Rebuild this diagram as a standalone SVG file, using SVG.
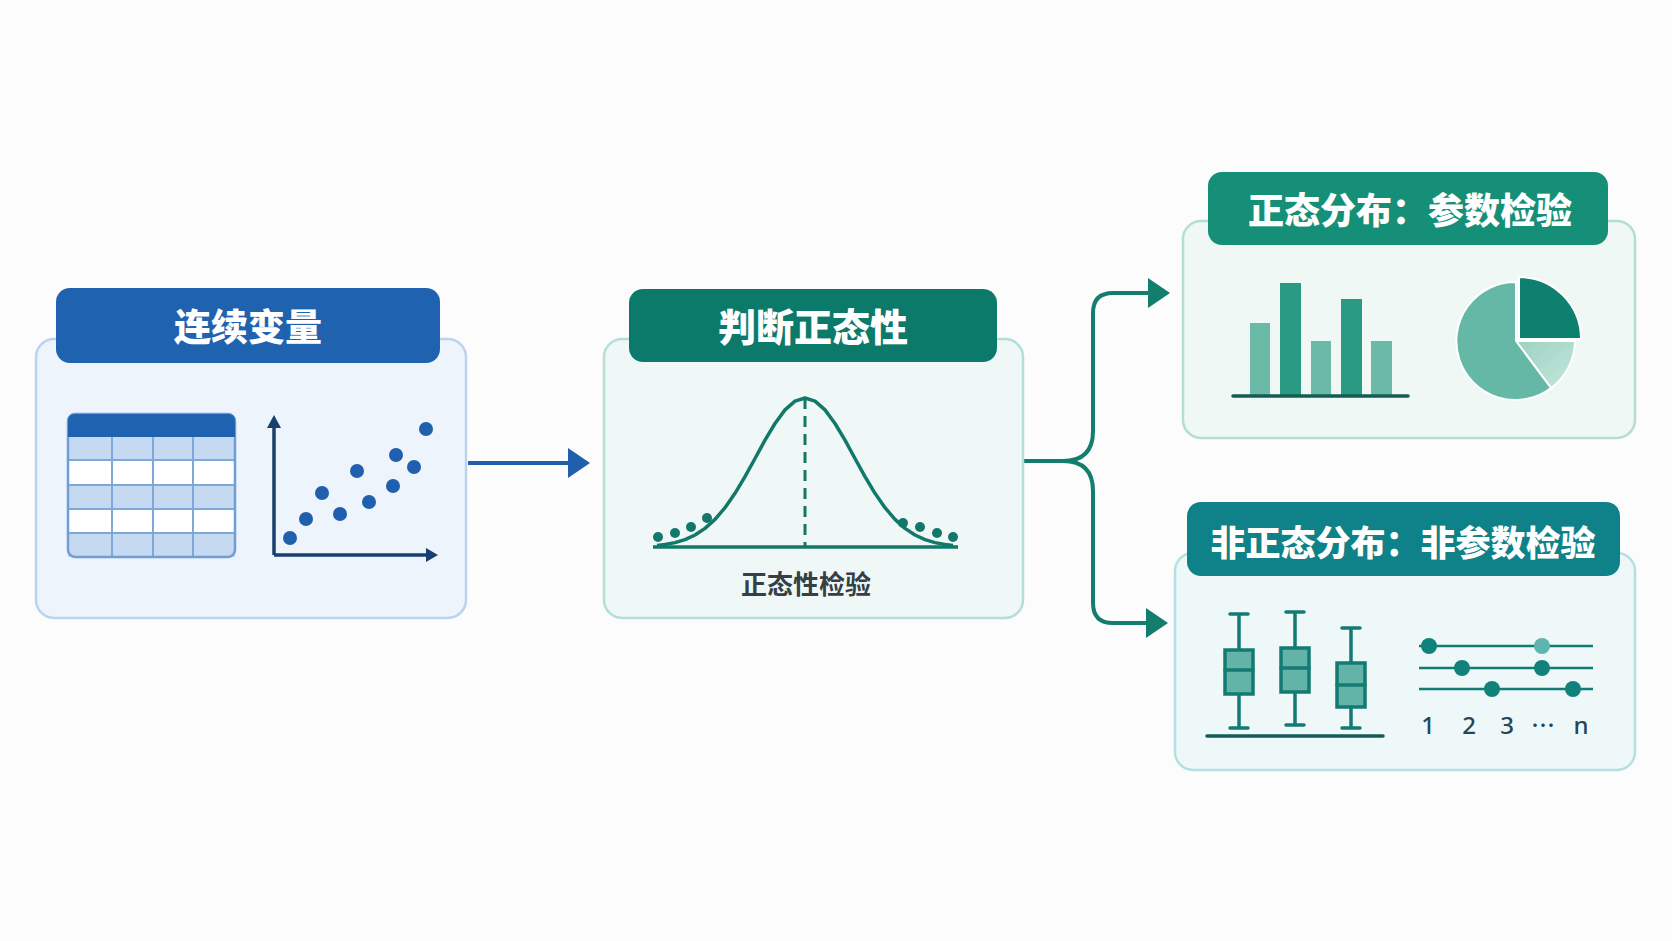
<svg xmlns="http://www.w3.org/2000/svg" width="1672" height="941" viewBox="0 0 1672 941">
<defs>
<style>
.hdr{font-family:"Noto Sans CJK SC","Noto Sans",sans-serif;font-weight:900;fill:#ffffff;text-anchor:middle}
.lbl{font-family:"Noto Sans CJK SC","Noto Sans",sans-serif;font-weight:700;fill:#343f46;text-anchor:middle}
.num{font-family:"Noto Sans","Open Sans",sans-serif;font-weight:500;fill:#25465a;text-anchor:middle;font-size:24px}
.grid{stroke:#7fa8da;stroke-width:2;fill:none}
.sdot{fill:#1f5fae}
.gdot{fill:#12786a}
.wh{stroke:#137b73;stroke-width:3.5;fill:none;stroke-linecap:round}
.box{fill:#62b3a8;stroke:#137b73;stroke-width:3.5}
.rl{stroke:#137b76;stroke-width:2.5}
.rd{fill:#11817c}
</style>
<marker id="ab" markerUnits="userSpaceOnUse" markerWidth="24" markerHeight="32" refX="0" refY="16" orient="auto">
<path d="M0,1 L22,16 L0,31 Z" fill="#1f5fae"/>
</marker>
<marker id="at" markerUnits="userSpaceOnUse" markerWidth="24" markerHeight="32" refX="0" refY="16" orient="auto">
<path d="M0,1 L22,16 L0,31 Z" fill="#137d6e"/>
</marker>
<linearGradient id="lg" x1="0" y1="0" x2="1" y2="1">
<stop offset="0" stop-color="#9dd2c3"/>
<stop offset="1" stop-color="#c4e6dc"/>
</linearGradient>
</defs>
<rect width="1672" height="941" fill="#fcfcfc"/>

<g id="connectors" fill="none" stroke-width="4">
<path d="M468,463 H568" stroke="#1f5fae" marker-end="url(#ab)"/>
<path d="M1023,461 H1063 Q1093,461 1093,431 V313 Q1093,293 1113,293 H1148" stroke="#137d6e" marker-end="url(#at)"/>
<path d="M1063,461 Q1093,461 1093,491 V603 Q1093,623 1113,623 H1146" stroke="#137d6e" marker-end="url(#at)"/>
</g>

<g id="node-continuous">
<rect x="36" y="339" width="430" height="279" rx="18" fill="#eef4fc" stroke="#bad3f0" stroke-width="2.5"/>
<rect x="56" y="288" width="384" height="75" rx="14" fill="#1e62b0"/>
<text class="hdr" x="248" y="341" font-size="37">连续变量</text>
<g id="table">
<rect x="68" y="414" width="167" height="143" rx="7" fill="#ffffff"/>
<rect x="68" y="437" width="167" height="23" fill="#c5d9f1"/>
<rect x="68" y="485" width="167" height="24" fill="#c5d9f1"/>
<rect x="68" y="533" width="167" height="24" fill="#c5d9f1"/>
<path class="grid" d="M68,460 H235 M68,485 H235 M68,509 H235 M68,533 H235 M112,437 V557 M153,437 V557 M193,437 V557"/>
<rect x="68" y="414" width="167" height="143" rx="7" fill="none" stroke="#6f9dd7" stroke-width="2.5"/>
<path d="M68,437 V421 Q68,414 75,414 H228 Q235,414 235,421 V437 Z" fill="#1e62b0"/>
</g>
<g id="scatter">
<path d="M274,555 V424 M274,555 H430" stroke="#173f70" stroke-width="3.5" fill="none"/>
<path d="M267,428 L274,415 L281,428 Z M426,548 L438,555 L426,562 Z" fill="#173f70"/>
<circle class="sdot" cx="290" cy="538" r="7"/>
<circle class="sdot" cx="306" cy="519" r="7"/>
<circle class="sdot" cx="322" cy="493" r="7"/>
<circle class="sdot" cx="340" cy="514" r="7"/>
<circle class="sdot" cx="357" cy="471" r="7"/>
<circle class="sdot" cx="369" cy="502" r="7"/>
<circle class="sdot" cx="393" cy="486" r="7"/>
<circle class="sdot" cx="396" cy="455" r="7"/>
<circle class="sdot" cx="414" cy="467" r="7"/>
<circle class="sdot" cx="426" cy="429" r="7"/>
</g>
</g>

<g id="node-normality">
<rect x="604" y="339" width="419" height="279" rx="18" fill="#eff8f6" stroke="#b4ded6" stroke-width="2.5"/>
<rect x="629" y="289" width="368" height="73" rx="14" fill="#0b7a6b"/>
<text class="hdr" x="813" y="341" font-size="38">判断正态性</text>
<path d="M653,547 H958" stroke="#12786a" stroke-width="3.5" fill="none"/>
<path d="M805,398 V547" stroke="#12786a" stroke-width="3" stroke-dasharray="11,7" fill="none"/>
<polyline fill="none" stroke="#12786a" stroke-width="3.5" stroke-linejoin="round" points="657,545.5 665,544.5 675,542.6 685,539.6 695,535 705,528.4 715,519.4 725,507.7 735,493.3 745,476.6 755,458.5 765,440.2 775,423.5 785,409.9 795,401.1 805,398 815,401.1 825,409.9 835,423.5 845,440.2 855,458.5 865,476.6 875,493.3 885,507.7 895,519.4 905,528.4 915,535 925,539.6 935,542.6 945,544.5 953,545.5"/>
<circle class="gdot" cx="658" cy="537" r="5"/>
<circle class="gdot" cx="675" cy="533" r="5"/>
<circle class="gdot" cx="691" cy="527" r="5"/>
<circle class="gdot" cx="707" cy="518" r="5"/>
<circle class="gdot" cx="903" cy="523" r="5"/>
<circle class="gdot" cx="920" cy="527" r="5"/>
<circle class="gdot" cx="937" cy="533" r="5"/>
<circle class="gdot" cx="953" cy="537" r="5"/>
<text class="lbl" x="806" y="594" font-size="26">正态性检验</text>
</g>

<g id="node-parametric">
<rect x="1183" y="221" width="452" height="217" rx="18" fill="#eff8f5" stroke="#b4ded4" stroke-width="2.5"/>
<rect x="1208" y="172" width="400" height="73" rx="14" fill="#168f78"/>
<text class="hdr" x="1410" y="224" font-size="36">正态分布：参数检验</text>
<rect x="1250" y="323" width="20" height="72" fill="#6bbaa8"/>
<rect x="1280" y="283" width="21" height="112" fill="#2a9a82"/>
<rect x="1311" y="341" width="20" height="54" fill="#6bbaa8"/>
<rect x="1341" y="299" width="21" height="96" fill="#2a9a82"/>
<rect x="1371" y="341" width="21" height="54" fill="#6bbaa8"/>
<path d="M1233,396 H1408" stroke="#135d55" stroke-width="3.5" stroke-linecap="round"/>
<path d="M1516,341 L1575,341 A59,59 0 0 1 1551,388 Z" fill="url(#lg)" stroke="#ffffff" stroke-width="2"/>
<path d="M1516,341 L1551,388 A59,59 0 1 1 1516,282 Z" fill="#66b8a6" stroke="#ffffff" stroke-width="2"/>
<path d="M1519,339 L1519,277 A62,62 0 0 1 1581,339 Z" fill="#0d8070" stroke="#ffffff" stroke-width="2"/>
</g>

<g id="node-nonparametric">
<rect x="1175" y="553" width="460" height="217" rx="18" fill="#eef8f9" stroke="#b5e0e2" stroke-width="2.5"/>
<rect x="1187" y="502" width="433" height="74" rx="14" fill="#0e8288"/>
<text class="hdr" x="1403" y="556" font-size="35">非正态分布：非参数检验</text>
<path d="M1207,736 H1383" stroke="#135d58" stroke-width="3.5" stroke-linecap="round"/>
<path class="wh" d="M1239,614 V728 M1230,614 H1248 M1230,728 H1248"/>
<rect class="box" x="1225" y="650" width="28" height="44"/>
<path class="wh" d="M1225,670 H1253"/>
<path class="wh" d="M1295,612 V725 M1286,612 H1304 M1286,725 H1304"/>
<rect class="box" x="1281" y="648" width="28" height="44"/>
<path class="wh" d="M1281,668 H1309"/>
<path class="wh" d="M1351,628 V728 M1342,628 H1360 M1342,728 H1360"/>
<rect class="box" x="1337" y="663" width="28" height="44"/>
<path class="wh" d="M1337,685 H1365"/>
<path class="rl" d="M1419,646 H1593 M1419,668 H1593 M1419,689 H1593"/>
<circle class="rd" cx="1429" cy="646" r="8"/>
<circle cx="1542" cy="646" r="8" fill="#5db5ad"/>
<circle class="rd" cx="1462" cy="668" r="8"/>
<circle class="rd" cx="1542" cy="668" r="8"/>
<circle class="rd" cx="1492" cy="689" r="8"/>
<circle class="rd" cx="1573" cy="689" r="8"/>
<text class="num" x="1428" y="734">1</text>
<text class="num" x="1469" y="734">2</text>
<text class="num" x="1507" y="734">3</text>
<text class="num" x="1543" y="734" style="font-family:'Noto Sans CJK SC',sans-serif">…</text>
<text class="num" x="1581" y="734">n</text>
</g>
</svg>
